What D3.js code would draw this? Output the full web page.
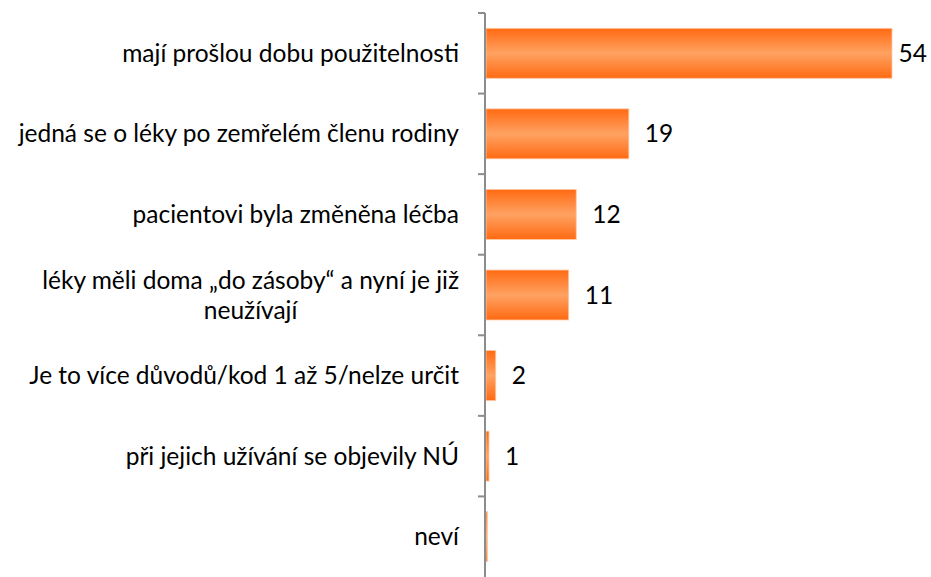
<!DOCTYPE html>
<html>
<head>
<meta charset="utf-8">
<script src="https://d3js.org/d3.v7.min.js"></script>
<style>
  body { margin: 0; background: #fff; }
  .cat, .val { font-family: Lato, "Open Sans", sans-serif; font-size: 24.5px; fill: #000; }
  .axis path, .axis line { stroke: #8c8c8c; stroke-width: 2; }
</style>
</head>
<body>
<div id="chart"></div>
<script>
// categories (top to bottom)
var categories = [
  "mají prošlou dobu použitelnosti",
  "jedná se o léky po zemřelém členu rodiny",
  "pacientovi byla změněna léčba",
  "léky měli doma „do zásoby“ a nyní je již neužívají",
  "Je to více důvodů/kod 1 až 5/nelze určit",
  "při jejich užívání se objevily NÚ",
  "neví"
];
// bar lengths
var values = [54, 19, 12, 11, 1.3, 0.4, 0.2];
// data labels shown next to bars
var labels = ["54", "19", "12", "11", "2", "1", ""];

var width = 931, height = 577;
var x0 = 485;

var svg = d3.select("#chart").append("svg")
    .attr("width", width)
    .attr("height", height);

var defs = svg.append("defs");
var grad = defs.append("linearGradient")
    .attr("id", "barGrad")
    .attr("x1", 0).attr("y1", 0).attr("x2", 0).attr("y2", 1);
grad.append("stop").attr("offset", "0%").attr("stop-color", "#ff6a12");
grad.append("stop").attr("offset", "50%").attr("stop-color", "#ffa262");
grad.append("stop").attr("offset", "100%").attr("stop-color", "#ff6a12");

var x = d3.scaleLinear().domain([0, 54]).range([x0, 891]);
var y = d3.scaleBand().domain(categories).range([13, 577]).paddingInner(0.38).paddingOuter(0.19);

// bars
svg.selectAll(".bar")
  .data(values)
  .enter().append("rect")
    .attr("class", "bar")
    .attr("x", x(0) + 1)
    .attr("y", function(d, i) { return y(categories[i]); })
    .attr("width", function(d) { return x(d) - x(0); })
    .attr("height", y.bandwidth())
    .attr("fill", "url(#barGrad)")
    .attr("stroke", "#ffc9a4")
    .attr("stroke-width", 0.8);

// value labels (kept inside the picture)
svg.selectAll(".val")
  .data(values)
  .enter().append("text")
    .attr("class", "val")
    .attr("y", function(d, i) { return y(categories[i]) + y.bandwidth() / 2; })
    .attr("dy", "0.35em")
    .text(function(d, i) { return labels[i]; })
    .attr("x", function(d) {
      var w = this.getComputedTextLength();
      return Math.min(x(d) + 17, width - w - 4);
    });

// axis with ticks between bands
var tickY = d3.range(categories.length).map(function(i) { return 13 + i * (577 - 13) / categories.length; });
var ax = svg.append("g").attr("class", "axis");
ax.append("path").attr("d", "M" + x0 + ",13V577").attr("fill", "none");
ax.selectAll("line")
  .data(tickY)
  .enter().append("line")
    .attr("x1", x0 - 7).attr("x2", x0)
    .attr("y1", function(d) { return d; }).attr("y2", function(d) { return d; });

// category labels, wrapped where too long
var maxW = 455;
categories.forEach(function(c, i) {
  var cy = y(c) + y.bandwidth() / 2;
  var t = svg.append("text").attr("class", "cat")
      .attr("x", 459).attr("y", cy).attr("dy", "0.35em")
      .attr("text-anchor", "end").text(c);
  if (t.node().getComputedTextLength() > maxW) {
    var words = c.split(" ");
    var line1 = [], rest = [];
    words.forEach(function(w) {
      if (rest.length === 0) {
        t.text(line1.concat([w]).join(" "));
        if (t.node().getComputedTextLength() > maxW) rest.push(w); else line1.push(w);
      } else rest.push(w);
    });
    t.text(line1.join(" ")).attr("y", cy - 15);
    var w1 = t.node().getComputedTextLength();
    svg.append("text").attr("class", "cat")
      .attr("x", 459 - w1 / 2).attr("y", cy + 15).attr("dy", "0.35em")
      .attr("text-anchor", "middle").text(rest.join(" "));
  }
});
</script>
</body>
</html>
